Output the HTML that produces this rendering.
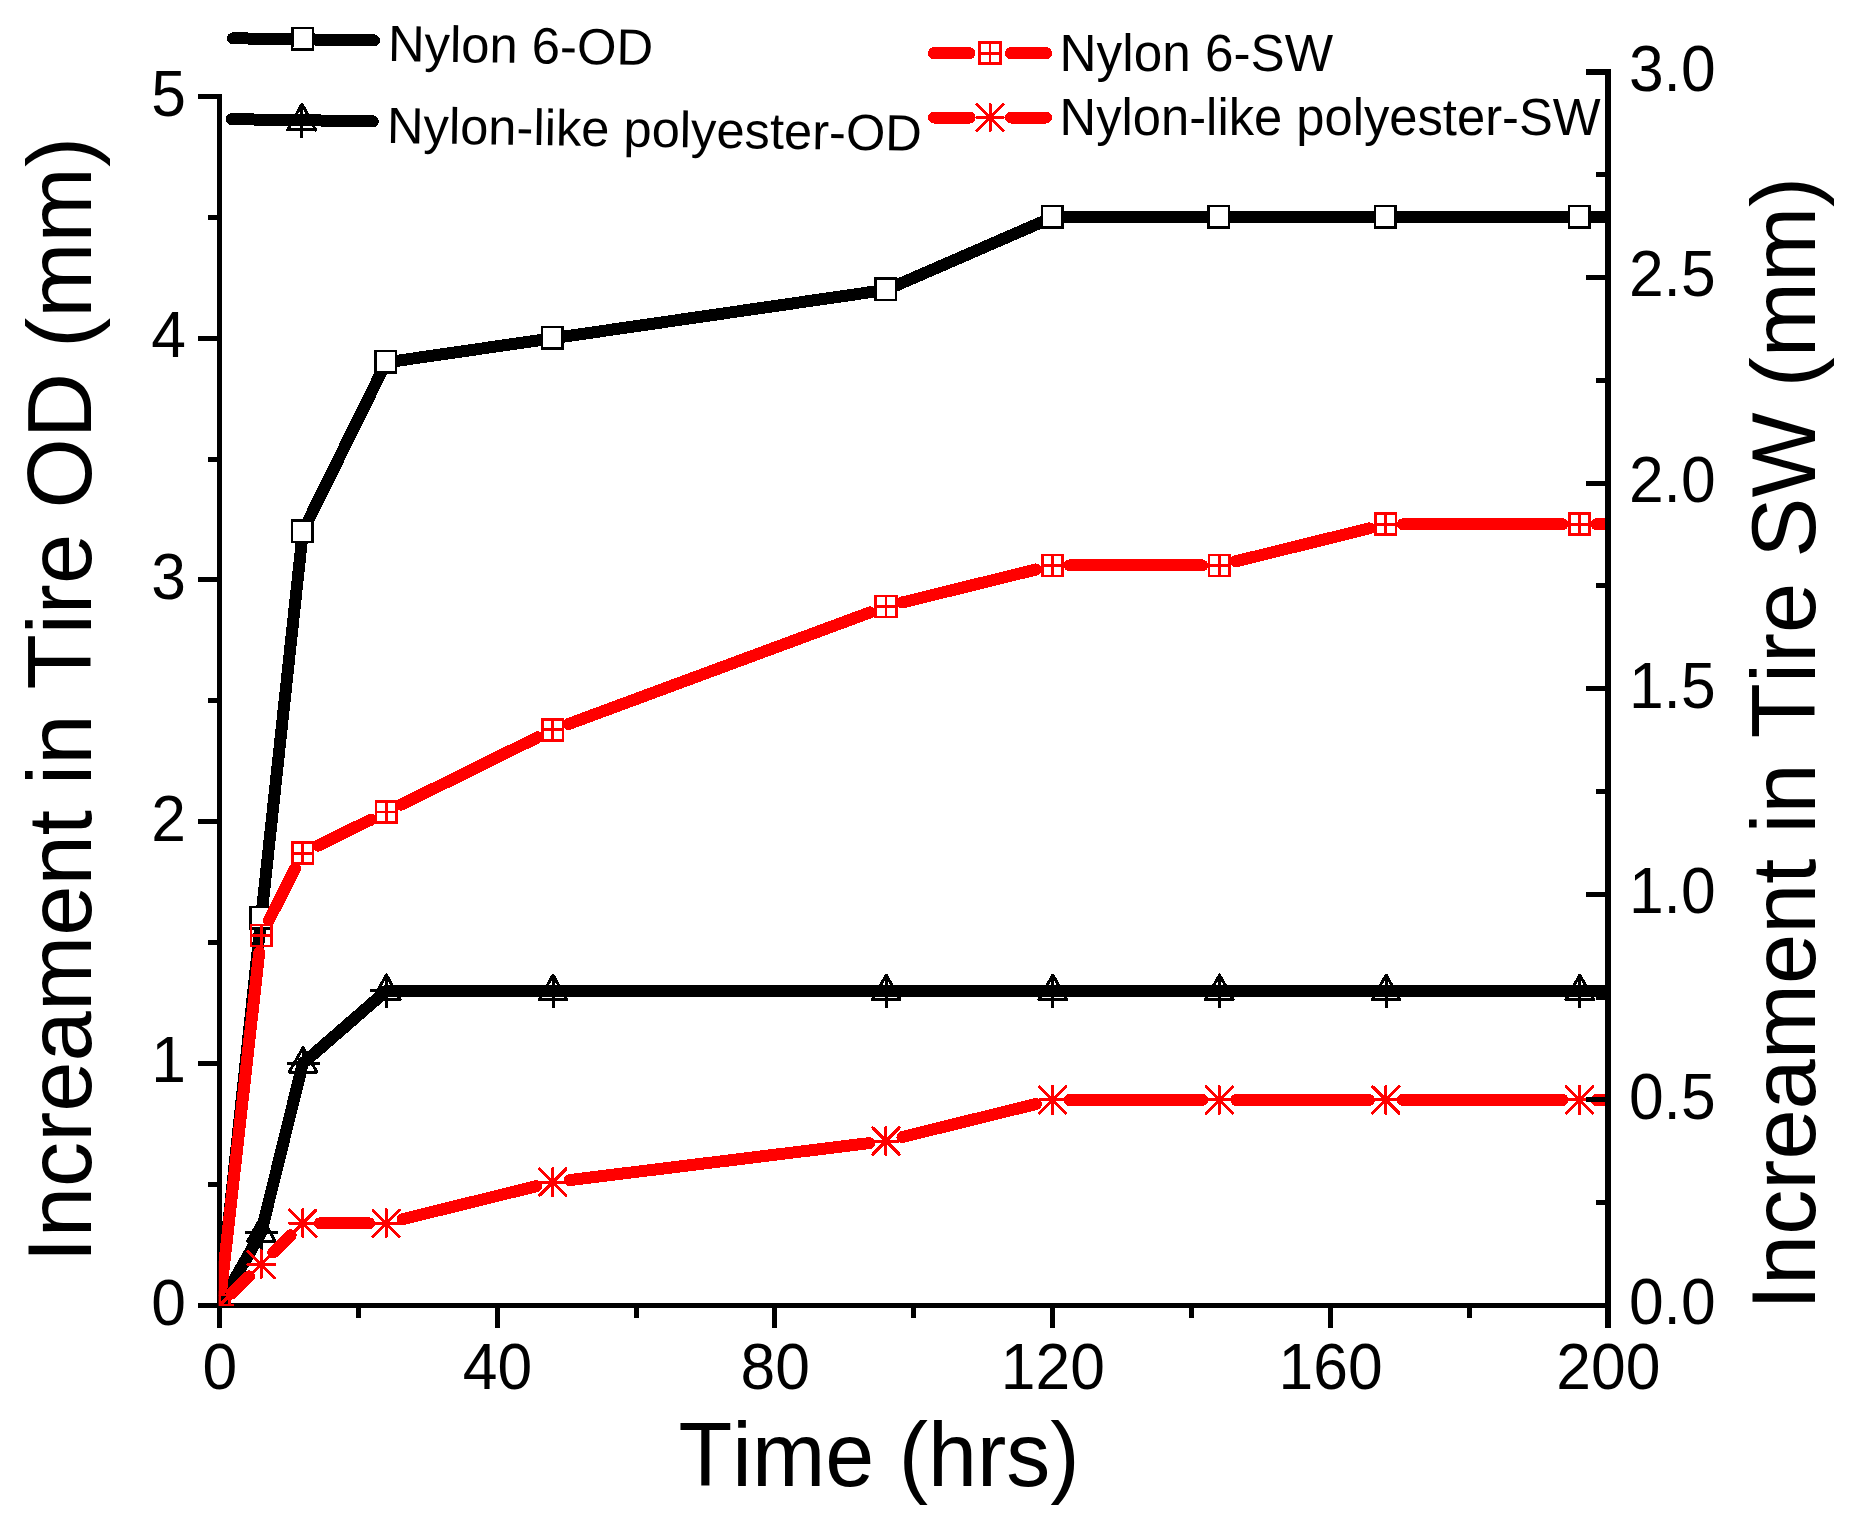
<!DOCTYPE html>
<html lang="en"><head><meta charset="utf-8"><title>Increament in Tire OD and SW vs Time</title>
<style>html,body{margin:0;padding:0;background:#fff}svg{display:block}text{font-family:"Liberation Sans",Arial,Helvetica,sans-serif;fill:#000;font-kerning:none}</style>
</head><body>
<svg width="1861" height="1528" viewBox="0 0 1861 1528">
<rect x="0" y="0" width="1861" height="1528" fill="#fff"/>
<defs>
<clipPath id="c1"><rect x="219.50" y="96.50" width="1388.50" height="1208.70"/></clipPath>
<clipPath id="c2"><rect x="218.80" y="72.00" width="1389.20" height="1234.00"/></clipPath>
<g id="msq"><rect x="-10.6" y="-11.2" width="20.5" height="21.4" fill="#fff" stroke="#000" stroke-width="2.5"/></g>
<g id="mtr" fill="none" stroke="#000" stroke-width="3" stroke-linejoin="round"><path d="M0.3 -15.9 L14 8.6 L-13.6 8.6 Z"/><path d="M-15.8 0 H17.2 M0.3 -15.9 V17.4"/></g>
<g id="mtr2" fill="none" stroke="#000" stroke-width="3" stroke-linejoin="round"><path d="M0 -16.2 L14 9.6 L-14 9.6 Z"/><path d="M-16.5 0 H16.5 M0 -16.2 V18"/></g>
<g id="mrs" fill="none" stroke="#f00" stroke-width="2.8"><rect x="-10.2" y="-10.5" width="20.4" height="21"/><path d="M-10.2 0 H10.2 M0 -10.5 V10.5"/></g>
<g id="mas" fill="none" stroke="#f00" stroke-width="3" stroke-linecap="round"><path d="M-13.3 0 H13.3 M0 -13.6 V13.6 M-13.2 -13.2 L13.2 13.2 M-13.2 13.2 L13.2 -13.2"/></g>
</defs>
<g clip-path="url(#c1)" shape-rendering="crispEdges">
<polyline points="219.50,1305.20 261.15,918.42 302.81,531.63 386.12,362.41 552.74,338.24 885.98,289.89 1052.60,217.37 1219.22,217.37 1385.84,217.37 1579.54,217.37 1774.62,217.37" fill="none" stroke="#000" stroke-width="12.0" stroke-linejoin="round"/>
<use href="#msq" x="219.50" y="1305.20"/>
<use href="#msq" x="261.15" y="918.42"/>
<use href="#msq" x="302.81" y="531.63"/>
<use href="#msq" x="386.12" y="362.41"/>
<use href="#msq" x="552.74" y="338.24"/>
<use href="#msq" x="885.98" y="289.89"/>
<use href="#msq" x="1052.60" y="217.37"/>
<use href="#msq" x="1219.22" y="217.37"/>
<use href="#msq" x="1385.84" y="217.37"/>
<use href="#msq" x="1579.54" y="217.37"/>
<use href="#msq" x="1774.62" y="217.37"/>
<polyline points="219.50,1305.20 261.15,1232.68 302.81,1063.46 386.12,990.94 552.74,990.94 885.98,990.94 1052.60,990.94 1219.22,990.94 1385.84,990.94 1579.54,990.94 1774.62,990.94" fill="none" stroke="#000" stroke-width="12.0" stroke-linejoin="round"/>
<use href="#mtr" x="219.50" y="1305.20"/>
<use href="#mtr" x="261.15" y="1232.68"/>
<use href="#mtr" x="302.81" y="1063.46"/>
<use href="#mtr" x="386.12" y="990.94"/>
<use href="#mtr" x="552.74" y="990.94"/>
<use href="#mtr" x="885.98" y="990.94"/>
<use href="#mtr" x="1052.60" y="990.94"/>
<use href="#mtr" x="1219.22" y="990.94"/>
<use href="#mtr" x="1385.84" y="990.94"/>
<use href="#mtr" x="1579.54" y="990.94"/>
<use href="#mtr" x="1774.62" y="990.94"/>
</g>
<g stroke="#000" stroke-width="5" fill="none" shape-rendering="crispEdges">
<line x1="219.5" y1="94.0" x2="219.5" y2="1327.5"/>
<line x1="198" y1="1305.5" x2="1611.0" y2="1305.5"/>
<line x1="207.5" y1="1184.33" x2="219.5" y2="1184.33"/>
<line x1="198" y1="1063.46" x2="219.5" y2="1063.46"/>
<line x1="207.5" y1="942.59" x2="219.5" y2="942.59"/>
<line x1="198" y1="821.72" x2="219.5" y2="821.72"/>
<line x1="207.5" y1="700.85" x2="219.5" y2="700.85"/>
<line x1="198" y1="579.98" x2="219.5" y2="579.98"/>
<line x1="207.5" y1="459.11" x2="219.5" y2="459.11"/>
<line x1="198" y1="338.24" x2="219.5" y2="338.24"/>
<line x1="207.5" y1="217.37" x2="219.5" y2="217.37"/>
<line x1="198" y1="96.50" x2="219.5" y2="96.50"/>
<line x1="358.35" y1="1305.5" x2="358.35" y2="1318"/>
<line x1="497.20" y1="1305.5" x2="497.20" y2="1327.5"/>
<line x1="636.05" y1="1305.5" x2="636.05" y2="1318"/>
<line x1="774.90" y1="1305.5" x2="774.90" y2="1327.5"/>
<line x1="913.75" y1="1305.5" x2="913.75" y2="1318"/>
<line x1="1052.60" y1="1305.5" x2="1052.60" y2="1327.5"/>
<line x1="1191.45" y1="1305.5" x2="1191.45" y2="1318"/>
<line x1="1330.30" y1="1305.5" x2="1330.30" y2="1327.5"/>
<line x1="1469.15" y1="1305.5" x2="1469.15" y2="1318"/>
</g>
<g clip-path="url(#c2)" shape-rendering="crispEdges">
<path d="M221.40 1288.61L259.25 952.34M268.84 920.28L295.13 868.38M318.05 845.69L370.88 819.62M401.36 804.58L537.50 737.39M568.68 723.97L870.04 612.42M902.48 602.44L1036.10 569.47M1069.60 565.40L1202.22 565.40M1235.72 561.33L1369.34 528.36M1402.84 524.28L1562.54 524.28M1596.54 524.28L1757.62 524.28" fill="none" stroke="#f00" stroke-width="12.0" stroke-linecap="round"/>
<use href="#mrs" x="219.50" y="1305.50"/>
<use href="#mrs" x="261.15" y="935.45"/>
<use href="#mrs" x="302.81" y="853.22"/>
<use href="#mrs" x="386.12" y="812.10"/>
<use href="#mrs" x="552.74" y="729.87"/>
<use href="#mrs" x="885.98" y="606.52"/>
<use href="#mrs" x="1052.60" y="565.40"/>
<use href="#mrs" x="1219.22" y="565.40"/>
<use href="#mrs" x="1385.84" y="524.28"/>
<use href="#mrs" x="1579.54" y="524.28"/>
<use href="#mrs" x="1774.62" y="524.28"/>
<path d="M231.60 1293.56L249.06 1276.33M273.25 1252.44L290.71 1235.21M319.81 1223.27L369.12 1223.27M402.62 1219.19L536.24 1186.22M569.61 1180.07L869.11 1143.12M902.48 1136.96L1036.10 1103.99M1069.60 1099.92L1202.22 1099.92M1236.22 1099.92L1368.84 1099.92M1402.84 1099.92L1562.54 1099.92M1596.54 1099.92L1757.62 1099.92" fill="none" stroke="#f00" stroke-width="12.0" stroke-linecap="round"/>
<use href="#mas" x="219.50" y="1305.50"/>
<use href="#mas" x="261.15" y="1264.38"/>
<use href="#mas" x="302.81" y="1223.27"/>
<use href="#mas" x="386.12" y="1223.27"/>
<use href="#mas" x="552.74" y="1182.15"/>
<use href="#mas" x="885.98" y="1141.03"/>
<use href="#mas" x="1052.60" y="1099.92"/>
<use href="#mas" x="1219.22" y="1099.92"/>
<use href="#mas" x="1385.84" y="1099.92"/>
<use href="#mas" x="1579.54" y="1099.92"/>
<use href="#mas" x="1774.62" y="1099.92"/>
</g>
<g stroke="#000" fill="none" shape-rendering="crispEdges">
<line x1="1608.0" y1="69.0" x2="1608.0" y2="1327.5" stroke-width="6"/>
<line x1="1595.5" y1="1202.71" x2="1608.0" y2="1202.71" stroke-width="5"/>
<line x1="1586" y1="1099.92" x2="1608.0" y2="1099.92" stroke-width="5"/>
<line x1="1595.5" y1="997.12" x2="1608.0" y2="997.12" stroke-width="5"/>
<line x1="1586" y1="894.33" x2="1608.0" y2="894.33" stroke-width="5"/>
<line x1="1595.5" y1="791.54" x2="1608.0" y2="791.54" stroke-width="5"/>
<line x1="1586" y1="688.75" x2="1608.0" y2="688.75" stroke-width="5"/>
<line x1="1595.5" y1="585.96" x2="1608.0" y2="585.96" stroke-width="5"/>
<line x1="1586" y1="483.17" x2="1608.0" y2="483.17" stroke-width="5"/>
<line x1="1595.5" y1="380.38" x2="1608.0" y2="380.38" stroke-width="5"/>
<line x1="1586" y1="277.58" x2="1608.0" y2="277.58" stroke-width="5"/>
<line x1="1595.5" y1="174.79" x2="1608.0" y2="174.79" stroke-width="5"/>
<line x1="1586" y1="72.00" x2="1608.0" y2="72.00" stroke-width="6"/>
</g>
<g font-size="64.0px">
<text x="151.31" y="1324.50" textLength="34.69" lengthAdjust="spacingAndGlyphs">0</text>
<text x="151.31" y="1082.46" textLength="34.69" lengthAdjust="spacingAndGlyphs">1</text>
<text x="151.31" y="840.72" textLength="34.69" lengthAdjust="spacingAndGlyphs">2</text>
<text x="151.31" y="598.98" textLength="34.69" lengthAdjust="spacingAndGlyphs">3</text>
<text x="151.31" y="357.24" textLength="34.69" lengthAdjust="spacingAndGlyphs">4</text>
<text x="151.31" y="115.50" textLength="34.69" lengthAdjust="spacingAndGlyphs">5</text>
<text x="202.45" y="1389.3" textLength="34.69" lengthAdjust="spacingAndGlyphs">0</text>
<text x="462.81" y="1389.3" textLength="69.39" lengthAdjust="spacingAndGlyphs">40</text>
<text x="740.51" y="1389.3" textLength="69.39" lengthAdjust="spacingAndGlyphs">80</text>
<text x="1000.86" y="1389.3" textLength="104.08" lengthAdjust="spacingAndGlyphs">120</text>
<text x="1278.56" y="1389.3" textLength="104.08" lengthAdjust="spacingAndGlyphs">160</text>
<text x="1556.26" y="1389.3" textLength="104.08" lengthAdjust="spacingAndGlyphs">200</text>
<text x="1628.9" y="1324.30" textLength="86.74" lengthAdjust="spacingAndGlyphs">0.0</text>
<text x="1628.9" y="1118.72" textLength="86.74" lengthAdjust="spacingAndGlyphs">0.5</text>
<text x="1628.9" y="913.13" textLength="86.74" lengthAdjust="spacingAndGlyphs">1.0</text>
<text x="1628.9" y="707.55" textLength="86.74" lengthAdjust="spacingAndGlyphs">1.5</text>
<text x="1628.9" y="501.97" textLength="86.74" lengthAdjust="spacingAndGlyphs">2.0</text>
<text x="1628.9" y="296.38" textLength="86.74" lengthAdjust="spacingAndGlyphs">2.5</text>
<text x="1628.9" y="90.80" textLength="86.74" lengthAdjust="spacingAndGlyphs">3.0</text>
</g>
<g font-size="90.7px">
<text transform="translate(91.2 1262.4) rotate(-90)" textLength="1125.4" lengthAdjust="spacingAndGlyphs">Increament in Tire OD (mm)</text>
<text transform="translate(1814.5 1310) rotate(-90)" textLength="1133.1" lengthAdjust="spacingAndGlyphs">Increament in Tire SW (mm)</text>
<text x="678.6" y="1485.8" textLength="401" lengthAdjust="spacingAndGlyphs">Time (hrs)</text>
</g>
<g transform="rotate(0.85 227 38.2)" font-size="51.0px" shape-rendering="crispEdges">
<line x1="233" y1="38.20" x2="374" y2="38.20" stroke="#000" stroke-width="12" stroke-linecap="round"/>
<use href="#msq" x="303" y="38.20"/>
<text x="388.0" y="58.70" textLength="265.3" lengthAdjust="spacingAndGlyphs">Nylon 6-OD</text>
<line x1="233" y1="119.10" x2="374" y2="119.10" stroke="#000" stroke-width="12" stroke-linecap="round"/>
<use href="#mtr2" x="303" y="119.10"/>
<text x="388.3" y="140.50" textLength="535.0" lengthAdjust="spacingAndGlyphs">Nylon-like polyester-OD</text>
</g>
<g font-size="51.0px" shape-rendering="crispEdges">
<path d="M934 53.20H969.5M1011 53.20H1046" stroke="#f00" stroke-width="12" stroke-linecap="round" fill="none"/>
<use href="#mrs" x="990" y="53.20"/>
<text x="1059.6" y="70.80" textLength="273.5" lengthAdjust="spacingAndGlyphs">Nylon 6-SW</text>
<path d="M934 117.50H969.5M1011 117.50H1046" stroke="#f00" stroke-width="12" stroke-linecap="round" fill="none"/>
<use href="#mas" x="990" y="117.50"/>
<text x="1059.6" y="135.10" textLength="541.0" lengthAdjust="spacingAndGlyphs">Nylon-like polyester-SW</text>
</g>
</svg></body></html>
